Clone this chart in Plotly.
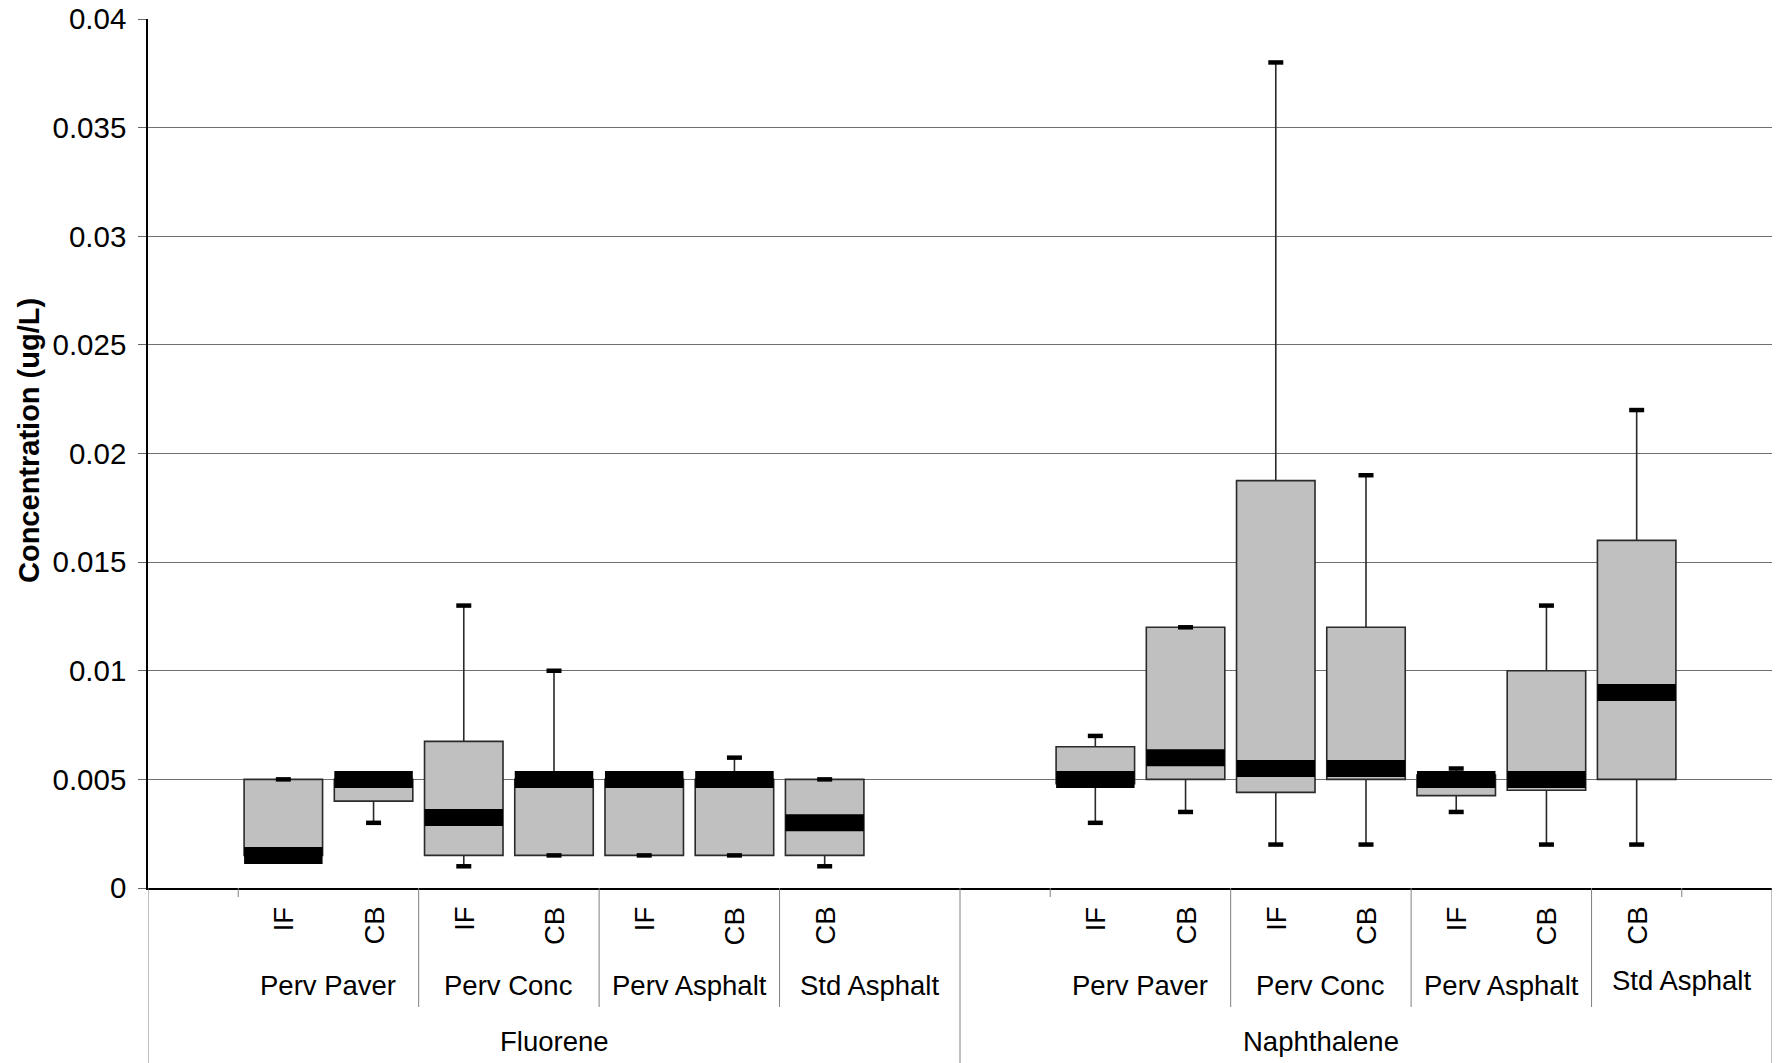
import plotly.graph_objects as go

# ---- data -------------------------------------------------------------
compounds = ["Fluorene", "Naphthalene"]
sample_types = ["IF", "CB", "IF", "CB", "IF", "CB", "CB"]
surface_types = ["Perv Paver", "Perv Conc", "Perv Asphalt", "Std Asphalt"]

# box statistics (ug/L), one entry per sample, same order as sample_types
fluorene_min = [0.0015, 0.003, 0.001, 0.0015, 0.0015, 0.0015, 0.001]
fluorene_q1 = [0.0015, 0.004, 0.0015, 0.0015, 0.0015, 0.0015, 0.0015]
fluorene_median = [0.0015, 0.005, 0.00325, 0.005, 0.005, 0.005, 0.003]
fluorene_q3 = [0.005, 0.005, 0.00675, 0.005, 0.005, 0.005, 0.005]
fluorene_max = [0.005, 0.005, 0.013, 0.010, 0.005, 0.006, 0.005]

naphthalene_min = [0.003, 0.0035, 0.002, 0.002, 0.0035, 0.002, 0.002]
naphthalene_q1 = [0.0048, 0.005, 0.0044, 0.005, 0.00425, 0.0045, 0.005]
naphthalene_median = [0.005, 0.006, 0.0055, 0.0055, 0.005, 0.005, 0.009]
naphthalene_q3 = [0.0065, 0.012, 0.01875, 0.012, 0.0052, 0.010, 0.016]
naphthalene_max = [0.007, 0.012, 0.038, 0.019, 0.0055, 0.013, 0.022]

y_tick_values = [0, 0.005, 0.01, 0.015, 0.02, 0.025, 0.03, 0.035, 0.04]
y_tick_labels = ["0", "0.005", "0.01", "0.015", "0.02", "0.025", "0.03", "0.035", "0.04"]

# ---- category slots ----------------------------------------------------
# each compound owns 9 slots: an empty lead slot, the 7 samples, an empty tail slot
SLOTS_PER_GROUP = 9
sample_slot = [1, 2, 3, 4, 5, 6, 7]
surface_span = {"Perv Paver": (1, 2), "Perv Conc": (3, 4),
                "Perv Asphalt": (5, 6), "Std Asphalt": (7, 8)}
compound_center = {"Fluorene": 4.0, "Naphthalene": 3.5}

x_pos, q1, med, q3, lo, hi = [], [], [], [], [], []
stats = [
    (fluorene_min, fluorene_q1, fluorene_median, fluorene_q3, fluorene_max),
    (naphthalene_min, naphthalene_q1, naphthalene_median, naphthalene_q3, naphthalene_max),
]
for g, (mn, a, m, b, mx) in enumerate(stats):
    off = g * SLOTS_PER_GROUP
    x_pos += [off + s for s in sample_slot]
    lo += mn; q1 += a; med += m; q3 += b; hi += mx

# ---- figure geometry ---------------------------------------------------
W, H = 1779, 1063
M_L, M_R, M_T, M_B = 148, 7, 19, 175
PLOT_H = H - M_T - M_B
PLOT_W = W - M_L - M_R
SLOT_PX = PLOT_W / (2 * SLOTS_PER_GROUP)
BOX_W = 0.87
CAP_HALF = 7.5 / SLOT_PX


def py(pixel_y):
    """pixel row -> paper y"""
    return (H - M_B - pixel_y) / PLOT_H


def segments(xs, ys, half):
    """horizontal segments centred on each (x, y), separated by gaps"""
    sx, sy = [], []
    for x, y in zip(xs, ys):
        sx += [x - half, x + half, None]
        sy += [y, y, None]
    return sx, sy


FONT = "Liberation Sans, Arial, sans-serif"
LABEL_SIZE = 27.5

fig = go.Figure()

fig.add_trace(go.Box(
    x=x_pos, q1=q1, median=med, q3=q3, lowerfence=lo, upperfence=hi,
    width=BOX_W, whiskerwidth=0, boxpoints=False,
    fillcolor="#c0c0c0", line=dict(color="#2a2a2a", width=1.6),
    showlegend=False, hoverinfo="skip",
))

# whisker end caps
cx, cy = segments(x_pos + x_pos, lo + hi, CAP_HALF)
fig.add_trace(go.Scatter(
    x=cx, y=cy, mode="lines", cliponaxis=False,
    line=dict(color="black", width=4.5),
    showlegend=False, hoverinfo="skip",
))

# thick median bands
mx_, my_ = segments(x_pos, med, BOX_W / 2)
fig.add_trace(go.Scatter(
    x=mx_, y=my_, mode="lines", cliponaxis=False,
    line=dict(color="black", width=17),
    showlegend=False, hoverinfo="skip",
))

# ---- multi-level category axis ----------------------------------------
shapes, annotations = [], []
divider_col = "#808080"
for g, comp in enumerate(compounds):
    off = g * SLOTS_PER_GROUP
    # sample labels
    for s, lab in zip(sample_slot, sample_types):
        annotations.append(dict(
            x=off + s, y=py(905), xref="x", yref="paper", text=lab,
            textangle=-90, showarrow=False, xanchor="center", yanchor="top",
            font=dict(family=FONT, size=LABEL_SIZE, color="black")))
    # surface labels
    for name in surface_types:
        a, b = surface_span[name]
        ylab = 980 if (g == 1 and name == "Std Asphalt") else 985
        annotations.append(dict(
            x=off + (a + b) / 2, y=py(ylab), xref="x", yref="paper", text=name,
            showarrow=False, xanchor="center", yanchor="middle",
            font=dict(family=FONT, size=LABEL_SIZE, color="black")))
    # compound label
    annotations.append(dict(
        x=off + compound_center[comp], y=py(1041), xref="x", yref="paper",
        text=comp, showarrow=False, xanchor="center", yanchor="middle",
        font=dict(family=FONT, size=LABEL_SIZE, color="black")))
    # dividers between surfaces
    for xb in (2.5, 4.5, 6.5):
        shapes.append(dict(type="line", xref="x", yref="paper",
                           x0=off + xb, x1=off + xb, y0=0, y1=py(1007),
                           line=dict(color=divider_col, width=1)))
    # short ticks around the empty slots
    short = [0.5] + ([7.5] if g == 1 else [])
    for xb in short:
        shapes.append(dict(type="line", xref="x", yref="paper",
                           x0=off + xb, x1=off + xb, y0=0, y1=py(897),
                           line=dict(color=divider_col, width=1)))

# compound boundaries down to the bottom edge
for xb in (-0.5, SLOTS_PER_GROUP - 0.5, 2 * SLOTS_PER_GROUP - 0.5):
    shapes.append(dict(type="line", xref="x", yref="paper",
                       x0=xb, x1=xb, y0=0, y1=py(H),
                       line=dict(color=divider_col, width=1)))

# y axis title
annotations.append(dict(
    x=(29 - M_L) / PLOT_W, y=py(441), xref="paper", yref="paper",
    text="<b>Concentration (ug/L)</b>", textangle=-90, showarrow=False,
    xanchor="center", yanchor="middle",
    font=dict(family=FONT, size=29, color="black")))

fig.update_layout(
    width=W, height=H,
    margin=dict(l=M_L, r=M_R, t=M_T, b=M_B, pad=0),
    paper_bgcolor="white", plot_bgcolor="white",
    shapes=shapes, annotations=annotations,
    xaxis=dict(range=[-0.5, 2 * SLOTS_PER_GROUP - 0.5], showgrid=False,
               zeroline=False, showticklabels=False, ticks="",
               automargin=False,
               showline=True, linecolor="black", linewidth=1.5),
    yaxis=dict(range=[0, 0.04], tickvals=y_tick_values, ticktext=y_tick_labels,
               automargin=False,
               showgrid=True, gridcolor="#707070", gridwidth=1, zeroline=False,
               showline=True, linecolor="black", linewidth=1.5,
               ticks="outside", ticklen=8, tickcolor="#666666", tickwidth=1,
               ticklabelstandoff=6,
               tickfont=dict(family=FONT, size=29.5, color="black")),
)

fig.write_html("out.html")
